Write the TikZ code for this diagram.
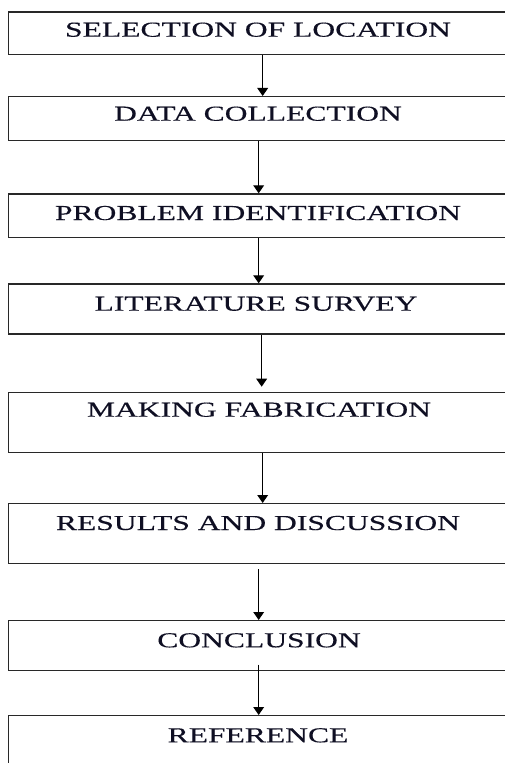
\documentclass[tikz,border=0pt]{standalone}
\usepackage{fontspec}
\setmainfont{Liberation Serif}[FakeStretch=1.48,FakeBold=0.35]
\usetikzlibrary{arrows.meta}

\tikzset{
  stagebox/.style={draw={rgb, 255:red, 40; green, 40; blue, 40 }, line width=1pt, rectangle, anchor=north west, inner sep=0pt, minimum width=375pt, minimum height=#1*0.75pt},
  stagetext/.style={anchor=base, inner sep=0.75pt, text={rgb, 255:red, 15; green, 15; blue, 35 }, font=\fontsize{16}{19}\selectfont},
  flow/.style={-{Triangle[width=8pt,length=6pt]}, line width=1pt},
}

\begin{document}
\begin{tikzpicture}[x=0.75pt,y=0.75pt,yscale=-1,xscale=1]
\useasboundingbox (0,0) rectangle (505,763);
\clip (0,0) rectangle (505,763);

%Shape: Rectangle [selection]
\node[stagebox=42.5] (loc) at (8,11.5) {};
%Shape: Rectangle [data]
\node[stagebox=44] (data) at (8,96) {};
%Shape: Rectangle [problem]
\node[stagebox=43.5] (prob) at (8,193.3) {};
%Shape: Rectangle [survey]
\node[stagebox=50] (lit) at (8,283.3) {};
%Shape: Rectangle [fabrication]
\node[stagebox=60] (fab) at (8,391.7) {};
%Shape: Rectangle [results]
\node[stagebox=60] (res) at (8,503) {};
%Shape: Rectangle [conclusion]
\node[stagebox=50] (concl) at (8,620) {};
%Shape: Rectangle [reference]
\node[stagebox=90] (ref) at (8,715) {};

% Text Node
\node[stagetext] (locT) at (258,36.7) {SELECTION OF LOCATION};
% Text Node
\node[stagetext] (dataT) at (258,120.7) {DATA COLLECTION};
% Text Node
\node[stagetext] (probT) at (258,220) {PROBLEM IDENTIFICATION};
% Text Node
\node[stagetext] (litT) at (256,310.7) {LITERATURE SURVEY};
% Text Node
\node[stagetext] (fabT) at (259,416.7) {MAKING FABRICATION};
% Text Node
\node[stagetext] (resT) at (258,530) {RESULTS AND DISCUSSION};
% Text Node
\node[stagetext] (conclT) at (259,647.3) {CONCLUSION};
% Text Node
\node[stagetext] (refT) at (258,742.3) {REFERENCE};

%Straight Lines [arrows]
\draw[flow] ([xshift=3pt]loc.south) -- ([xshift=3pt]data.north);
\draw[flow] (data.south) -- (prob.north);
\draw[flow] (prob.south) -- (lit.north);
\draw[flow, shorten >=3.75pt] ([xshift=2.25pt]lit.south) -- ([xshift=2.25pt]fab.north);
\draw[flow] ([xshift=3pt]fab.south) -- ([xshift=3pt]res.north);
\draw[flow, shorten <=3.75pt] (res.south) -- (concl.north);
\draw[flow, shorten <=-5pt] (concl.south) -- (ref.north);
\end{tikzpicture}
\end{document}
